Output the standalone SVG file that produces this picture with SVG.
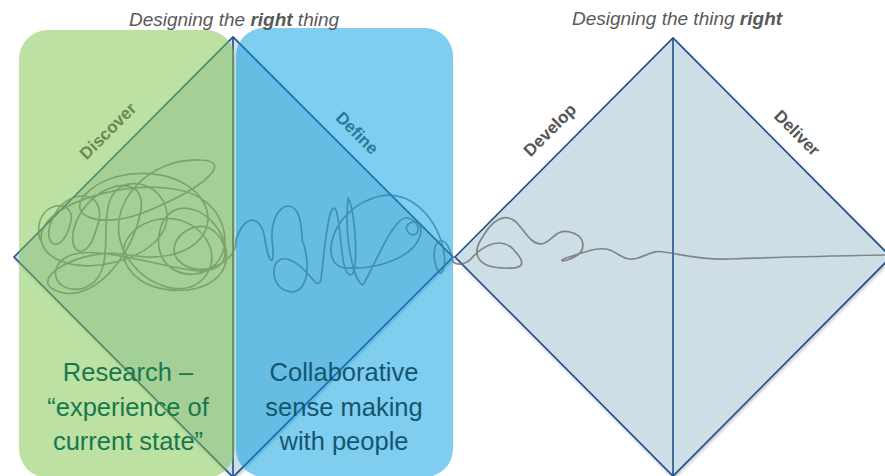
<svg xmlns="http://www.w3.org/2000/svg" width="885" height="476" viewBox="0 0 885 476">
  <defs>
    <filter id="soft-shadow" x="-5%" y="-5%" width="110%" height="110%">
      <feDropShadow dx="1" dy="2" stdDeviation="1.5" flood-color="#000" flood-opacity="0.22"/>
    </filter>
    <style>
      .diamond { fill: #cddee6; stroke: #1f4e8c; stroke-width: 1.6; stroke-linejoin: miter; }
      .axis { stroke: #1f4e8c; stroke-width: 1.6; fill: none; }
      .heading { font-family: "Liberation Sans", Arial, sans-serif; font-size: 19px; font-style: italic; fill: #595959; text-anchor: middle; }
      .heading .strong { font-weight: bold; }
      .phase { font-family: "Liberation Sans", Arial, sans-serif; font-size: 17px; font-weight: bold; fill: #555555; text-anchor: middle; }
      .scribble { fill: none; stroke: #6e6e6e; stroke-width: 1.7; stroke-opacity: 0.8; stroke-linecap: round; stroke-linejoin: round; }
      .panel-green { fill: #7bc147; opacity: 0.5; }
      .panel-blue { fill: #009bdf; opacity: 0.5; }
      .note { font-family: "Liberation Sans", Arial, sans-serif; font-size: 25.5px; text-anchor: middle; }
      .note-green { fill: #17784d; }
      .note-blue { fill: #14566e; }
    </style>
  </defs>

  <rect width="885" height="476" fill="#ffffff"/>

  <!-- first diamond: discover / define -->
  <g id="diamond-1">
    <polygon class="diamond" points="14,257 233,37 453,257 233,477" filter="url(#soft-shadow)"/>
    <line class="axis" x1="233" y1="37" x2="233" y2="477"/>
  </g>

  <!-- second diamond: develop / deliver -->
  <g id="diamond-2">
    <polygon class="diamond" points="455,257 673,38 891,257 673,476" filter="url(#soft-shadow)"/>
    <line class="axis" x1="673" y1="38" x2="673" y2="476"/>
  </g>

  <!-- tangled line running through both diamonds -->
  <g id="connectors">
    <path class="scribble" d="M 40 240
      C 30 200, 80 195, 70 225
      C 60 260, 38 242, 55 214
      C 70 186, 112 190, 96 230
      C 86 268, 60 250, 80 214
      C 100 180, 150 172, 140 215
      C 130 260, 92 302, 60 292
      C 22 282, 80 245, 130 255
      C 190 266, 222 230, 202 200
      C 182 168, 120 165, 90 190
      C 60 215, 100 232, 150 210
      C 210 185, 232 160, 200 160
      C 150 158, 110 200, 120 240
      C 130 280, 180 302, 202 280
      C 222 260, 210 230, 180 220
      C 140 210, 100 250, 140 280
      C 170 300, 232 292, 226 250
      C 220 210, 170 190, 160 230
      C 150 270, 192 286, 215 265
      C 235 245, 225 200, 180 190
      C 130 180, 60 200, 45 225
      C 30 250, 60 270, 100 265
      C 150 258, 175 230, 165 205
      C 155 180, 120 175, 110 200
      C 100 225, 115 270, 90 285
      C 70 298, 45 280, 60 262
      C 80 240, 140 262, 190 270
      C 230 276, 232 248, 215 232
      C 195 214, 160 244, 180 262
      C 200 280, 238 262, 236 240
      C 245 212, 262 215, 265 240
      C 268 262, 276 272, 272 240
      C 270 210, 290 196, 298 214
      C 304 228, 300 240, 304 245
      C 312 275, 304 296, 287 291
      C 268 286, 270 252, 290 260
      C 310 268, 316 292, 321 280
      C 326 232, 330 200, 336 210
      C 342 228, 340 272, 350 275
      C 360 278, 355 206, 348 198
      C 344 240, 354 282, 363 285
      C 376 262, 395 214, 408 218
      C 426 224, 416 242, 408 232
      C 400 222, 426 214, 420 236
      C 414 256, 380 270, 345 268
      C 318 265, 330 208, 380 196
      C 410 190, 432 215, 441 240
      C 450 266, 440 286, 435 262
      C 430 240, 447 228, 453 262
      C 458 266, 465 264, 470 260
      C 480 248, 498 236, 512 248
      C 522 258, 530 270, 505 268
      C 480 268, 470 256, 482 238
      C 492 220, 505 212, 516 222
      C 526 232, 530 244, 542 244
      C 552 242, 556 228, 570 232
      C 586 236, 586 250, 576 256
      C 566 262, 556 262, 566 258
      C 585 252, 598 246, 610 250
      C 620 254, 625 262, 638 258
      C 650 254, 655 250, 664 252
      C 690 256, 705 260, 730 259
      C 780 257, 830 256, 885 255"/>
  </g>

  <!-- phase labels along the diamond edges -->
  <g id="label-discover">
    <text class="phase" transform="translate(112,135) rotate(-45)">Discover</text>
  </g>
  <g id="label-define">
    <text class="phase" transform="translate(353,137) rotate(45)">Define</text>
  </g>
  <g id="label-develop">
    <text class="phase" transform="translate(554,134) rotate(-45)">Develop</text>
  </g>
  <g id="label-deliver">
    <text class="phase" transform="translate(793,137) rotate(45)">Deliver</text>
  </g>

  <!-- translucent activity panels over the first diamond -->
  <g id="panel-research">
    <rect class="panel-green" x="19" y="30" width="216" height="448" rx="29" ry="29"/>
    <text class="note note-green" x="128" y="381">Research –</text>
    <text class="note note-green" x="128" y="416">“experience of</text>
    <text class="note note-green" x="128" y="450">current state”</text>
  </g>
  <g id="panel-sensemaking">
    <rect class="panel-blue" x="236" y="28" width="217" height="449" rx="28" ry="28"/>
    <text class="note note-blue" x="344" y="381">Collaborative</text>
    <text class="note note-blue" x="344" y="416">sense making</text>
    <text class="note note-blue" x="344" y="450">with people</text>
  </g>

  <!-- headings -->
  <g id="heading-left">
    <text class="heading" x="234" y="26">Designing the <tspan class="strong">right</tspan> thing</text>
  </g>
  <g id="heading-right">
    <text class="heading" x="677" y="25">Designing the thing <tspan class="strong">right</tspan></text>
  </g>
</svg>
